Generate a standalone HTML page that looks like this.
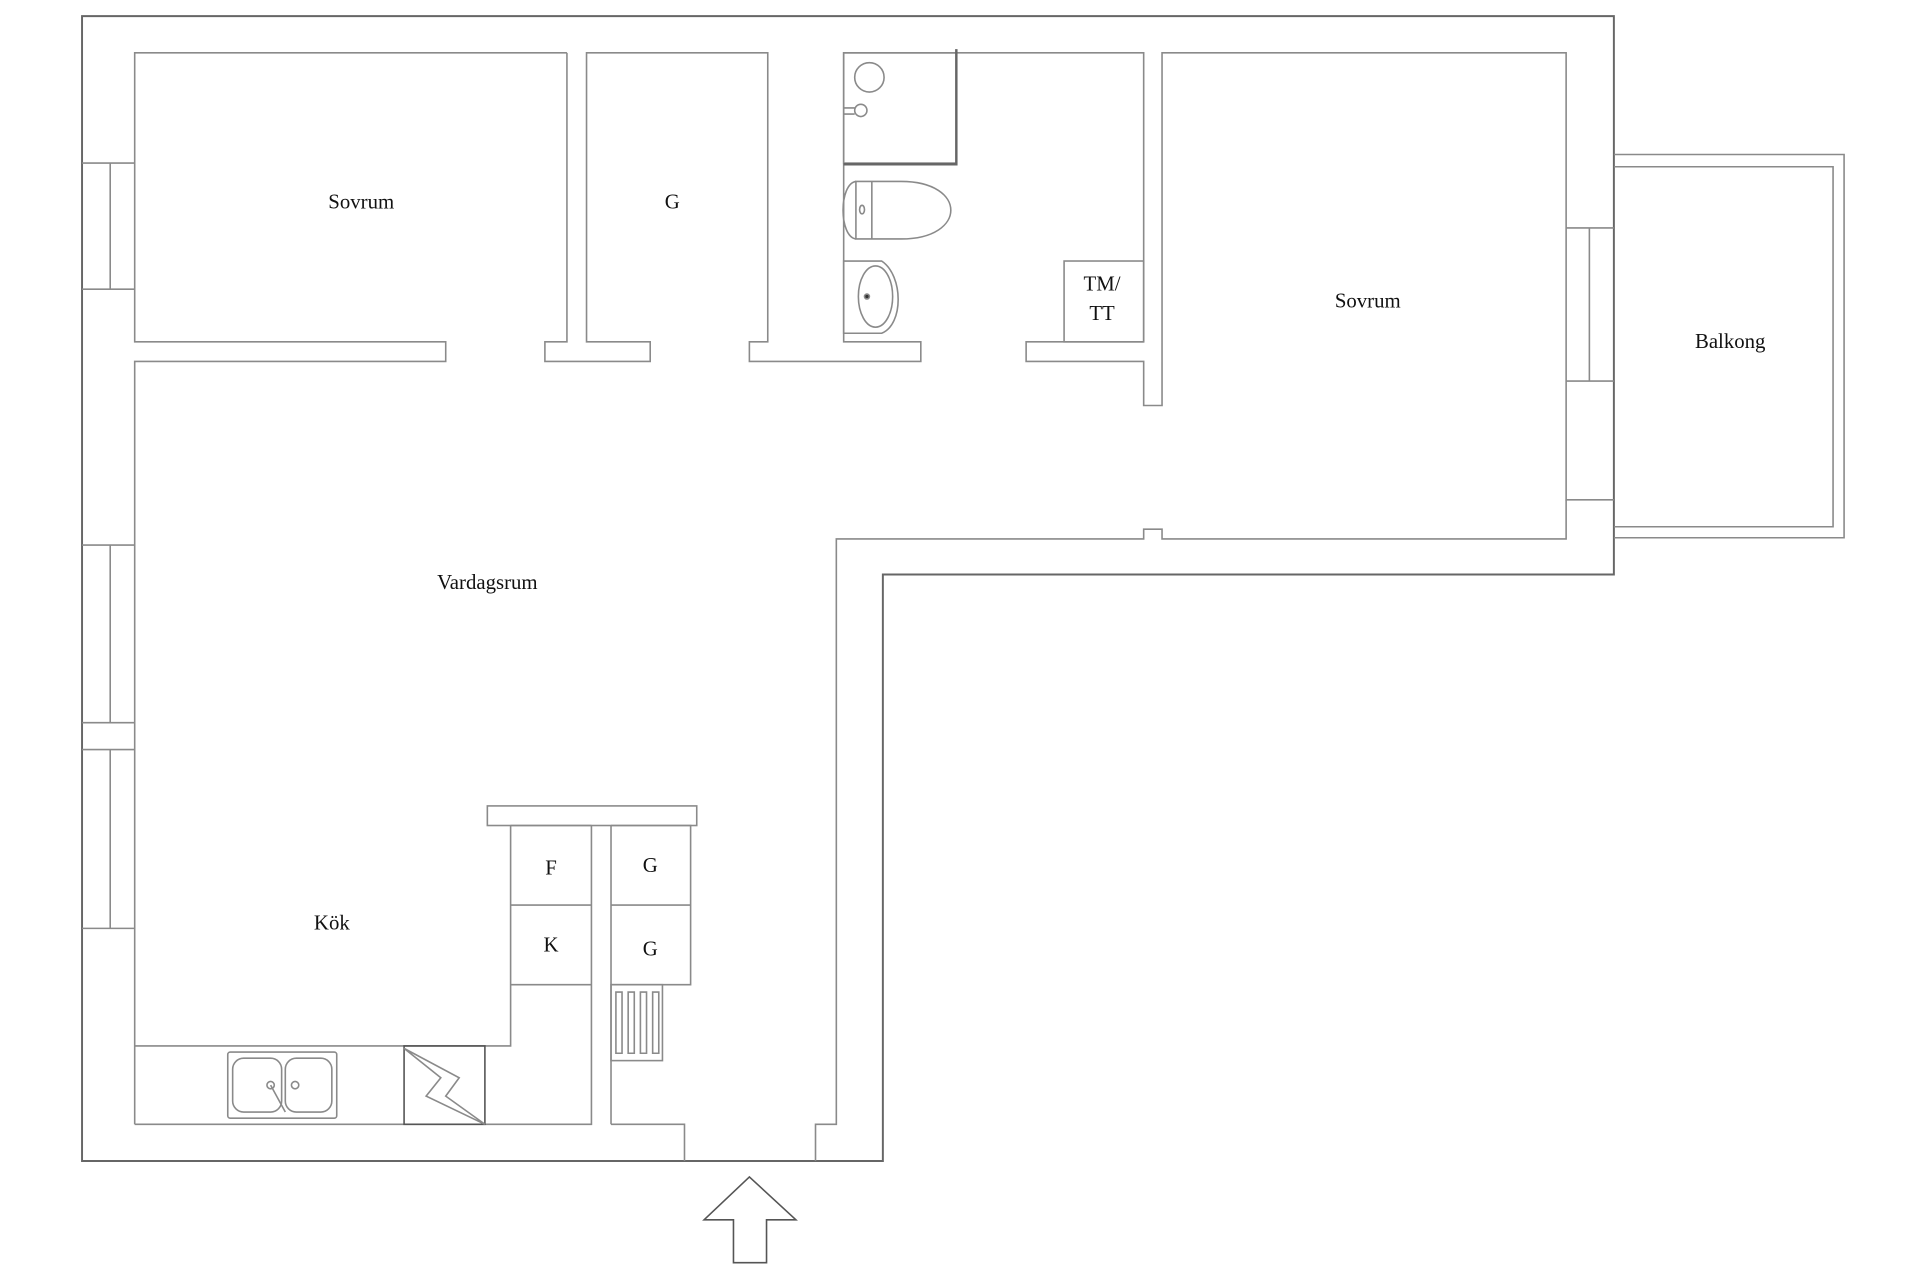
<!DOCTYPE html>
<html><head><meta charset="utf-8"><style>html,body{margin:0;padding:0;background:#fff}svg{display:block}text{font-family:"Liberation Serif",serif;font-size:17px;fill:#111;text-anchor:middle}</style></head>
<body>
<svg width="1920" height="1280" viewBox="0 0 1568 1045" xmlns="http://www.w3.org/2000/svg">
<g fill="none" stroke="#8a8a8a" stroke-width="1.3">
<path d="M67,13 H1318 V469 H721 V948 H67 Z" stroke="#666" stroke-width="1.6"/>
<!-- left windows -->
<path d="M67,133 H110 M67,236 H110 M90,133 V236"/>
<path d="M67,445 H110 M67,590 H110 M90,445 V590 M67,612 H110 M67,758 H110 M90,612 V758"/>
<!-- bedroom1 -->
<path d="M463,43 H110 V279 H364 V295 H110 V918"/>
<path d="M463,43 V279 H445 V295 H531 V279 H479 V43 H627 V279 H612 V295 H752 V279 H689 V43 H934 V279"/>
<path d="M934,279 H838 V295 H934 V331 H949 V43 H1279 V186 H1318 M1279,186 V311 H1318 M1298,186 V311 M1279,311 V408 H1318"/>
<rect x="869" y="213" width="65" height="66"/>
<!-- corridor lower -->
<path d="M1279,408 V440 H949 V432 H934 V440 H683 V918 H666 V948"/>
<path d="M559,948 V918 H499"/>
<!-- bathroom fixtures -->
<rect x="689" y="43" width="92" height="90"/>
<path d="M781,40 V134 H689" stroke="#666" stroke-width="2"/>
<circle cx="710" cy="63" r="12"/>
<path d="M689,88 H698 M689,93 H698"/><ellipse cx="703" cy="90" rx="5" ry="5"/>
<path d="M699,148 H736 C790,148 790,195 736,195 H699 Z"/>
<path d="M699,148 C685,150 685,193 699,195 M712,148 V195"/>
<ellipse cx="704" cy="171" rx="2" ry="3.5"/>
<path d="M689,213 H720 C738,225 738,265 720,272 H689 Z"/>
<ellipse cx="715" cy="242" rx="14" ry="25"/>
<circle cx="708" cy="242" r="2" fill="#333"/>
<!-- kitchen -->
<rect x="398" y="658" width="171" height="16"/>
<path d="M110,854 H417 V674 M483,674 V918 H110 M499,674 V918"/>
<path d="M417,674 H483 M417,739 H483 M417,804 H483 M499,674 H564 V804 H499 M499,739 H564"/>
<rect x="499" y="804" width="42" height="62"/>
<path d="M503,810 V860 H508 V810 Z M513,810 V860 H518 V810 Z M523,810 V860 H528 V810 Z M533,810 V860 H538 V810 Z"/>
<rect x="186" y="859" width="89" height="54" rx="2"/>
<rect x="190" y="864" width="40" height="44" rx="9"/>
<rect x="233" y="864" width="38" height="44" rx="9"/>
<circle cx="221" cy="886" r="3"/><circle cx="241" cy="886" r="3"/>
<path d="M221,886 L233,908"/>
<rect x="330" y="854" width="66" height="64" stroke="#555"/>
<path d="M330,856 L375,880 L364,895 L396,918 L348,895 L360,880 Z"/>
<!-- balcony -->
<path d="M1318,126 H1506 V439 H1318 M1318,136 H1497 V430 H1318"/>
<!-- arrow -->
<path d="M575,996 L612,961 L650,996 H626 V1031 H599 V996 Z" stroke="#555"/>
</g>
<text x="295" y="170">Sovrum</text>
<text x="549" y="170">G</text>
<text x="1117" y="251">Sovrum</text>
<text x="1413" y="284">Balkong</text>
<text x="398" y="481">Vardagsrum</text>
<text x="271" y="759">Kök</text>
<text x="450" y="714">F</text>
<text x="450" y="777">K</text>
<text x="531" y="712">G</text>
<text x="531" y="780">G</text>
<text x="900" y="237">TM/</text>
<text x="900" y="261">TT</text>
</svg>
</body></html>
